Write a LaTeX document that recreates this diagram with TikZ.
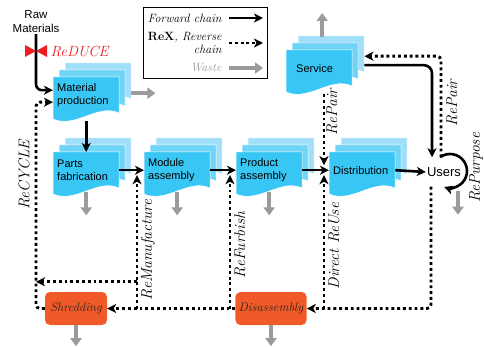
\documentclass[tikz,border=0pt]{standalone}
\usepackage{fontspec}
\usepackage{xcolor}
\usetikzlibrary{shapes,arrows.meta,positioning,calc}
\newfontfamily\boxfont{Liberation Sans}

\definecolor{docfront}{RGB}{56,198,244}
\definecolor{docmid}{RGB}{112,212,246}
\definecolor{docback}{RGB}{160,222,249}
\definecolor{recorange}{RGB}{240,90,40}
\definecolor{wastegray}{RGB}{155,155,155}
\definecolor{reducered}{RGB}{235,30,35}

\tikzset{
  fwd/.style={line width=2.6pt,-{Stealth[length=9pt,width=9pt,inset=2.5pt]}},
  rex/.style={line width=2.9pt,dash pattern=on 2.9pt off 2.9pt,-{Stealth[length=9pt,width=9pt,inset=2.5pt]}},
  waste/.style={wastegray,line width=4pt,-{Triangle[length=8pt,width=11pt]}},
  docnode/.style={anchor=north west,minimum width=66pt,minimum height=36pt,text width=58pt,
    inner xsep=4pt,align=left,font=\boxfont\fontsize{11}{13}\selectfont},
  recbox/.style={fill=recorange,rounded corners=5pt,minimum height=33pt,text=black!85,
    font=\itshape\fontsize{12.5}{14}\selectfont},
  rexlabel/.style={rotate=90,font=\itshape\fontsize{15.5}{17}\selectfont},
  legtext/.style={anchor=east,align=right,font=\itshape\fontsize{12}{12.5}\selectfont},
}

% stacked document shape: name, x, y, text
\newcommand{\docstack}[4]{%
  \begin{scope}[shift={(#2,#3)}]
    \filldraw[docback,draw=white,line width=0.5pt] (12,14) -- (78,14) -- (78,-22) .. controls (57,-12) and (34,-38) .. (12,-28) -- cycle;
    \filldraw[docmid,draw=white,line width=0.5pt] (6,7) -- (72,7) -- (72,-29) .. controls (51,-19) and (28,-45) .. (6,-35) -- cycle;
    \filldraw[docfront,draw=white,line width=0.5pt] (0,0) -- (66,0) -- (66,-36) .. controls (45,-26) and (22,-52) .. (0,-42) -- cycle;
  \end{scope}
  \node[docnode] (#1) at (#2,#3) {#4};
}

\begin{document}
\begin{tikzpicture}[x=1pt,y=1pt]
    \useasboundingbox (0,0) rectangle (484,-347);

    % Legend
    \node[draw,line width=0.8pt,minimum width=124pt,minimum height=71pt] (legend) at (205,-42.5) {};
    \node[legtext] (lfwd) at (225,-18) {Forward chain};
    \node[legtext] (lrex) at (225,-43) {\textbf{\upshape ReX}, Reverse\\chain};
    \node[legtext,text=wastegray] (lwaste) at (225,-68) {Waste};
    \draw[fwd] ([xshift=4pt]lfwd.east) -- ++(34,0);
    \draw[rex] ([xshift=4pt]lrex.east) -- ++(34,0);
    \draw[waste] ([xshift=4pt]lwaste.east) -- ++(34,0);

    % Process stages
    \docstack{matprod}{53}{-77}{Material\\production}
    \docstack{parts}{53}{-152}{Parts\\fabrication}
    \docstack{module}{144}{-152}{Module\\assembly}
    \docstack{product}{236}{-152}{Product\\assembly}
    \docstack{distrib}{329}{-152}{Distribution}
    \docstack{service}{286}{-50}{\hspace*{6pt}Service}

    \node[font=\boxfont\fontsize{13}{15}\selectfont,inner xsep=1pt,inner ysep=10pt] (users) at (444,-172) {Users};
    \node[font=\boxfont\fontsize{11.5}{14}\selectfont,align=center,inner sep=1pt] (raw) at (36,-22) {Raw\\Materials};

    % Recovery
    \node[recbox,minimum width=62pt] (shred) at (76,-308.5) {Shredding};
    \node[recbox,minimum width=70pt] (disasm) at (271,-308.5) {Disassembly};

    % Waste
    \draw[waste] ([xshift=12pt,yshift=2pt]matprod.east) -- ++(24,0);
    \draw[waste] ([yshift=-4pt]parts.south) -- ++(0,-23);
    \draw[waste] ([yshift=-4pt]module.south) -- ++(0,-23);
    \draw[waste] ([yshift=-4pt]product.south) -- ++(0,-23);
    \draw[waste] ([xshift=14pt,yshift=-4pt]users.south) -- ++(0,-24);
    \draw[waste] ([xshift=3pt,yshift=13pt]service.north) -- ++(0,24);
    \draw[waste] (shred.south) -- ++(0,-21);
    \draw[waste] (disasm.south) -- ++(0,-21);

    % Forward chain
    \draw[fwd,rounded corners=6pt] (raw.south) |- ([yshift=5pt]matprod.west);
    \fill[reducered] (36,-51) coordinate (valve) -- ++(-11,6) -- ++(0,-12) -- cycle;
    \fill[reducered] (valve) -- ++(11,6) -- ++(0,-12) -- cycle;
    \node[anchor=west,text=reducered,font=\itshape\fontsize{14.8}{16}\selectfont] (reduce) at (47,-51) {ReDUCE};
    \draw[fwd] ([yshift=-8pt]matprod.south) -- (parts.north);
    \draw[fwd] (parts.east) -- (module.west);
    \draw[fwd] (module.east) -- (product.west);
    \draw[fwd] (product.east) -- (distrib.west);
    \draw[fwd] (distrib.east) -- (users.west);
    \draw[fwd,rounded corners=8pt] ([xshift=12pt,yshift=3pt]service.east) -| ([xshift=-12pt]users.north);
    \draw[fwd] ($(users.center)+(6,1)$) ++(125:17) arc[start angle=125,end angle=-110,radius=17];

    % Reverse chain
    \coordinate (cyc) at (36,-200);
    \coordinate (remanu) at ([xshift=-7pt,yshift=-5pt]module.west);
    \coordinate (refurb) at ([xshift=-6pt,yshift=-5pt]product.west);
    \coordinate (reuse) at ([xshift=-5pt,yshift=-5pt]distrib.west);
    \coordinate (repair) at ([xshift=-5pt,yshift=5pt]distrib.west);
    \coordinate (srvbot) at ([yshift=-8pt]service.south);
    \coordinate (scrap) at ([yshift=10pt]shred.north);
    \draw[rex,rounded corners=4pt] ([xshift=-3pt]users.north) |- ([xshift=12pt,yshift=12pt]service.east);
    \draw[rex] (repair |- srvbot) -- (repair);
    \draw[rex,rounded corners=4pt] ([xshift=-13pt]users.south) |- (disasm.east);
    \draw[rex] (reuse |- disasm.east) -- (reuse);
    \draw[rex] (refurb |- disasm.west) -- (refurb);
    \draw[rex] (disasm.west) -- (shred.east);
    \draw[rex] (remanu |- shred.east) -- (remanu);
    \draw[rex] (remanu |- scrap) -- (cyc |- scrap);
    \draw[rex,rounded corners=4pt] (shred.west) -| (cyc) |- ([yshift=-7pt]matprod.west);

    % Labels
    \node[rexlabel] (lcycle) at (24,-175) {ReCYCLE};
    \node[rexlabel] (lmanu) at (148,-250) {ReManufacture};
    \node[rexlabel] (lfurb) at (240,-245) {ReFurbish};
    \node[rexlabel] (lreuse) at (334,-246) {Direct ReUse};
    \node[rexlabel] (lpair) at (332,-112) {RePair};
    \node[rexlabel] (lpair2) at (452,-103) {RePair};
    \node[rexlabel] (lpurp) at (476,-168) {RePurpose};
\end{tikzpicture}
\end{document}
